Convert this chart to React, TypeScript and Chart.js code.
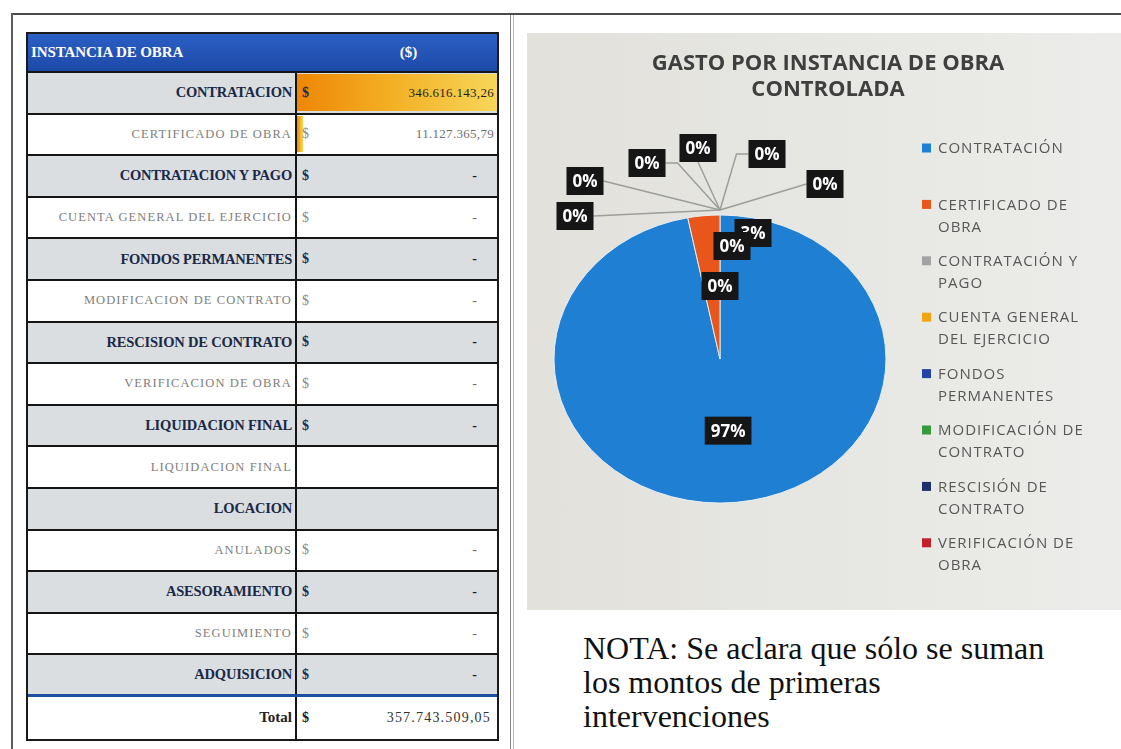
import React, { useEffect, useRef } from 'react';
import { Chart, registerables } from 'chart.js';

Chart.register(...registerables);

// ---------- Table data ----------
const TABLE_HEADER = ['INSTANCIA DE OBRA', '($)'];
const TABLE_LABELS = [
  'CONTRATACION',
  'CERTIFICADO DE OBRA',
  'CONTRATACION Y PAGO',
  'CUENTA GENERAL DEL EJERCICIO',
  'FONDOS PERMANENTES',
  'MODIFICACION DE CONTRATO',
  'RESCISION DE CONTRATO',
  'VERIFICACION DE OBRA',
  'LIQUIDACION FINAL',
  'LIQUIDACION FINAL',
  'LOCACION',
  'ANULADOS',
  'ASESORAMIENTO',
  'SEGUIMIENTO',
  'ADQUISICION',
];
const TABLE_VALUES: (number | null)[] = [
  346616143.26, 11127365.79, 0, 0, 0, 0, 0, 0, 0, null, null, 0, 0, 0, 0,
];
const TOTAL_LABEL = 'Total';
const TOTAL_VALUE = 357743509.05;

// ---------- Pie data ----------
const PIE_TITLE = ['GASTO POR INSTANCIA DE OBRA', 'CONTROLADA'];
const PIE_LABELS = [
  'CONTRATACIÓN',
  'CERTIFICADO DE OBRA',
  'CONTRATACIÓN Y PAGO',
  'CUENTA GENERAL DEL EJERCICIO',
  'FONDOS PERMANENTES',
  'MODIFICACIÓN DE CONTRATO',
  'RESCISIÓN DE CONTRATO',
  'VERIFICACIÓN DE OBRA',
  'LIQUIDACIÓN FINAL',
  'ANULADOS',
];
const PIE_VALUES = [346616143.26, 11127365.79, 0, 0, 0, 0, 0, 0, 0, 0];
const PIE_COLORS = [
  '#1f80d3', '#e8561c', '#a3a3a3', '#f1a512', '#2344a6',
  '#349a3c', '#1c2e6c', '#c21f2b', '#6d9bd3', '#e58a52',
];
const LEGEND_SHOWN = 8;

const NOTE_LINES = ['NOTA: Se aclara que sólo se suman', 'los montos de primeras', 'intervenciones'];

// label placement (Excel best-fit / dragged positions), relative to pie centre: [dx, dy, leaderLine]
const LABEL_OFFSETS: ([number, number, boolean] | null)[] = [
  null,
  [33, -126, false],
  [12, -113, false],
  [0, -73, false],
  [-145, -143, true],
  [-135, -178, true],
  [-73, -196, true],
  [-22, -211, true],
  [47, -205, true],
  [105, -175, true],
];
const PIE_RADIUS = 166;
const PIE_Y_SCALE = 144 / 166;

function fmt(v: number): string {
  const [i, d] = v.toFixed(2).split('.');
  return i.replace(/\B(?=(\d{3})+(?!\d))/g, '.') + ',' + d;
}

const ellipsePlugin = {
  id: 'ellipse',
  beforeDatasetsDraw(chart: any) {
    const el = chart.getDatasetMeta(0).data[0];
    const ctx = chart.ctx;
    ctx.save();
    ctx.translate(el.x, el.y);
    ctx.scale(1, PIE_Y_SCALE);
    ctx.translate(-el.x, -el.y);
  },
  afterDatasetsDraw(chart: any) {
    chart.ctx.restore();
  },
};

const titlePlugin = {
  id: 'panelTitle',
  afterDraw(chart: any) {
    const ctx = chart.ctx;
    ctx.save();
    ctx.font = 'bold 22px "Open Sans"';
    ctx.fillStyle = '#3f3f3f';
    ctx.textAlign = 'center';
    ctx.textBaseline = 'middle';
    PIE_TITLE.forEach((t, i) => ctx.fillText(t, chart.width / 2 + 4, 31 + i * 26));
    ctx.restore();
  },
};

const labelPlugin = {
  id: 'pctLabels',
  afterDraw(chart: any) {
    const ctx = chart.ctx;
    const meta = chart.getDatasetMeta(0);
    const data = chart.data.datasets[0].data as number[];
    const total = data.reduce((a, b) => a + b, 0);
    ctx.save();
    ctx.font = 'bold 17px "Open Sans"';
    const items = meta.data.map((el: any, i: number) => {
      const p = el.getProps(['x', 'y', 'startAngle', 'endAngle', 'outerRadius'], true);
      const text = Math.round((data[i] / total) * 100) + '%';
      const off = LABEL_OFFSETS[i];
      let lx: number, ly: number;
      if (!off) {
        const mid = (p.startAngle + p.endAngle) / 2;
        lx = p.x + Math.cos(mid) * p.outerRadius * 0.5;
        ly = p.y + Math.sin(mid) * p.outerRadius * PIE_Y_SCALE * 0.5;
      } else {
        lx = p.x + off[0];
        ly = p.y + off[1];
      }
      const w = ctx.measureText(text).width + 12;
      const h = 28;
      const ax = p.x + Math.cos(p.endAngle) * p.outerRadius;
      const ay = p.y + Math.sin(p.endAngle) * p.outerRadius * PIE_Y_SCALE - 5;
      return { text, lx, ly, w, h, ax, ay, line: !!(off && off[2]) };
    });
    ctx.strokeStyle = '#9d9d9a';
    ctx.lineWidth = 1.5;
    items.forEach((it: any) => {
      if (!it.line) return;
      const dx = it.ax - it.lx;
      ctx.beginPath();
      if (Math.abs(dx) < 30) {
        ctx.moveTo(it.lx, it.ly + it.h / 2);
      } else {
        const s = Math.sign(dx);
        const sx = it.lx + (s * it.w) / 2;
        ctx.moveTo(sx, it.ly);
        if (Math.abs(dx) < 90) ctx.lineTo(sx + s * 12, it.ly);
      }
      ctx.lineTo(it.ax, it.ay);
      ctx.stroke();
    });
    ctx.textAlign = 'center';
    ctx.textBaseline = 'middle';
    items.forEach((it: any) => {
      ctx.fillStyle = '#161616';
      ctx.fillRect(it.lx - it.w / 2, it.ly - it.h / 2, it.w, it.h);
      ctx.fillStyle = '#ffffff';
      ctx.fillText(it.text, it.lx, it.ly + 1);
    });
    ctx.restore();
  },
};

const legendPlugin = {
  id: 'wrapLegend',
  afterDraw(chart: any) {
    const ctx = chart.ctx;
    const labels = chart.data.labels as string[];
    const colors = chart.data.datasets[0].backgroundColor as string[];
    ctx.save();
    ctx.font = '15px "Open Sans"';
    (ctx as any).letterSpacing = '1px';
    ctx.textAlign = 'left';
    ctx.textBaseline = 'middle';
    const maxW = 170;
    for (let i = 0; i < Math.min(LEGEND_SHOWN, labels.length); i++) {
      const words = labels[i].split(' ');
      const lines: string[] = [];
      let cur = '';
      words.forEach((w) => {
        const t = cur ? cur + ' ' + w : w;
        if (cur && ctx.measureText(t).width > maxW) {
          lines.push(cur);
          cur = w;
        } else cur = t;
      });
      lines.push(cur);
      const y0 = 115 + i * 56.4;
      ctx.fillStyle = colors[i];
      ctx.fillRect(395, y0 - 4.5, 9, 9);
      ctx.fillStyle = '#575757';
      lines.forEach((l, j) => ctx.fillText(l, 411, y0 + 1 + j * 22));
    }
    ctx.restore();
  },
};

function PieChart() {
  const ref = useRef<HTMLCanvasElement>(null);
  useEffect(() => {
    const chart = new Chart(ref.current as HTMLCanvasElement, {
      type: 'pie',
      data: {
        labels: PIE_LABELS,
        datasets: [
          {
            data: PIE_VALUES,
            backgroundColor: PIE_COLORS,
            borderColor: '#eaf0f6',
            borderWidth: 1,
            radius: PIE_RADIUS,
          } as any,
        ],
      },
      options: {
        animation: false,
        responsive: false,
        maintainAspectRatio: false,
        layout: { padding: { left: 27, right: 235, top: 79, bottom: 4 } },
        plugins: {
          legend: { display: false },
          tooltip: { enabled: false },
          title: { display: false },
        },
      } as any,
      plugins: [ellipsePlugin, titlePlugin, labelPlugin, legendPlugin],
    });
    return () => chart.destroy();
  }, []);
  return (
    <canvas
      ref={ref}
      width={594}
      height={577}
      style={{
        position: 'absolute',
        left: 527,
        top: 33,
        width: 594,
        height: 577,
        background: 'linear-gradient(90deg, #e2e1dc 0%, #e7e7e3 55%, #ecedea 100%)',
      }}
    />
  );
}

const SERIF = '"Liberation Serif", "DejaVu Serif", serif';

function DataTable() {
  const max = Math.max(...TABLE_VALUES.map((v) => v ?? 0));
  const rowH = 41.6;
  const rows = TABLE_LABELS.map((label, i) => {
    const gray = i % 2 === 0;
    const v = TABLE_VALUES[i];
    const isLast = i === TABLE_LABELS.length - 1;
    return (
      <div
        key={i}
        style={{
          display: 'flex',
          height: rowH,
          boxSizing: 'border-box',
          borderBottom: isLast ? '3px solid #1f4ea0' : '2px solid #151515',
          background: gray ? '#dadee1' : '#ffffff',
        }}
      >
        <div
          style={{
            width: 269,
            boxSizing: 'border-box',
            borderRight: '2px solid #151515',
            display: 'flex',
            alignItems: 'center',
            justifyContent: 'flex-end',
            paddingRight: 3,
            fontFamily: SERIF,
            fontWeight: gray ? 'bold' : 'normal',
            fontSize: gray ? 14.5 : 12.5,
            letterSpacing: gray ? -0.2 : 1.1,
            color: gray ? '#1a2946' : '#7e7e7e',
            whiteSpace: 'nowrap',
          }}
        >
          {label}
        </div>
        <div
          style={{
            flex: 1,
            position: 'relative',
            display: 'flex',
            alignItems: 'center',
            fontFamily: SERIF,
            fontSize: 14,
          }}
        >
          {v !== null && v > 0 && (
            <div
              style={{
                position: 'absolute',
                left: 0,
                top: 1,
                bottom: 2,
                width: `${(v / max) * 100}%`,
                background: 'linear-gradient(90deg, #ee8607 0%, #f3ae22 45%, #f7d65a 100%)',
              }}
            />
          )}
          {v !== null && (
            <>
              <span
                style={{
                  position: 'relative',
                  paddingLeft: 5,
                  fontWeight: gray ? 'bold' : 'normal',
                  color: gray ? '#1c2d52' : '#8a8a8a',
                }}
              >
                $
              </span>
              <span
                style={{
                  position: 'relative',
                  marginLeft: 'auto',
                  paddingRight: v === 0 ? 20 : 3,
                  letterSpacing: v === 0 ? 0 : 0.3,
                  fontSize: v === 0 ? 14 : 13,
                  color: gray ? '#1f1f1f' : '#6f6f6f',
                  fontWeight: v === 0 && gray ? 'bold' : 'normal',
                }}
              >
                {v === 0 ? '-' : fmt(v)}
              </span>
            </>
          )}
        </div>
      </div>
    );
  });
  return (
    <div
      style={{
        position: 'absolute',
        left: 26,
        top: 32,
        width: 473,
        boxSizing: 'border-box',
        border: '2px solid #1a1a1a',
        background: '#fff',
      }}
    >
      <div
        style={{
          display: 'flex',
          height: 39,
          boxSizing: 'border-box',
          borderBottom: '2px solid #151515',
          background: 'linear-gradient(180deg, #2b5fc4 0%, #1d4aa8 100%)',
          color: '#ffffff',
          fontFamily: SERIF,
          fontWeight: 'bold',
          fontSize: 15,
        }}
      >
        <div style={{ width: 269, display: 'flex', alignItems: 'center', paddingLeft: 3, letterSpacing: -0.1 }}>
          {TABLE_HEADER[0]}
        </div>
        <div style={{ flex: 1, display: 'flex', alignItems: 'center', justifyContent: 'center', paddingLeft: 20 }}>
          {TABLE_HEADER[1]}
        </div>
      </div>
      {rows}
      <div style={{ display: 'flex', height: rowH, background: '#fff' }}>
        <div
          style={{
            width: 269,
            boxSizing: 'border-box',
            borderRight: '2px solid #151515',
            display: 'flex',
            alignItems: 'center',
            justifyContent: 'flex-end',
            paddingRight: 3,
            fontFamily: SERIF,
            fontWeight: 'bold',
            fontSize: 15,
            color: '#222',
          }}
        >
          {TOTAL_LABEL}
        </div>
        <div style={{ flex: 1, display: 'flex', alignItems: 'center', fontFamily: SERIF, fontSize: 14 }}>
          <span style={{ paddingLeft: 5, fontWeight: 'bold', color: '#222' }}>$</span>
          <span style={{ marginLeft: 'auto', paddingRight: 6, letterSpacing: 1.2, color: '#333' }}>
            {fmt(TOTAL_VALUE)}
          </span>
        </div>
      </div>
    </div>
  );
}

export default function App() {
  return (
    <div style={{ position: 'absolute', left: 0, top: 0, width: 1121, height: 749, background: '#fff', overflow: 'hidden' }}>
      <div style={{ position: 'absolute', left: 11, top: 13, width: 1110, height: 2, background: '#4c4c4c' }} />
      <div style={{ position: 'absolute', left: 11, top: 13, width: 2, height: 736, background: '#5c5c5c' }} />
      <div style={{ position: 'absolute', left: 510, top: 15, width: 1, height: 734, background: '#8a8a8a' }} />
      <div style={{ position: 'absolute', left: 513, top: 15, width: 1, height: 734, background: '#b5b5b5' }} />
      <DataTable />
      <PieChart />
      <div
        style={{
          position: 'absolute',
          left: 583,
          top: 631,
          fontFamily: SERIF,
          fontSize: 32,
          lineHeight: '34px',
          color: '#111',
          whiteSpace: 'nowrap',
        }}
      >
        {NOTE_LINES.map((l, i) => (
          <div key={i}>{l}</div>
        ))}
      </div>
    </div>
  );
}
